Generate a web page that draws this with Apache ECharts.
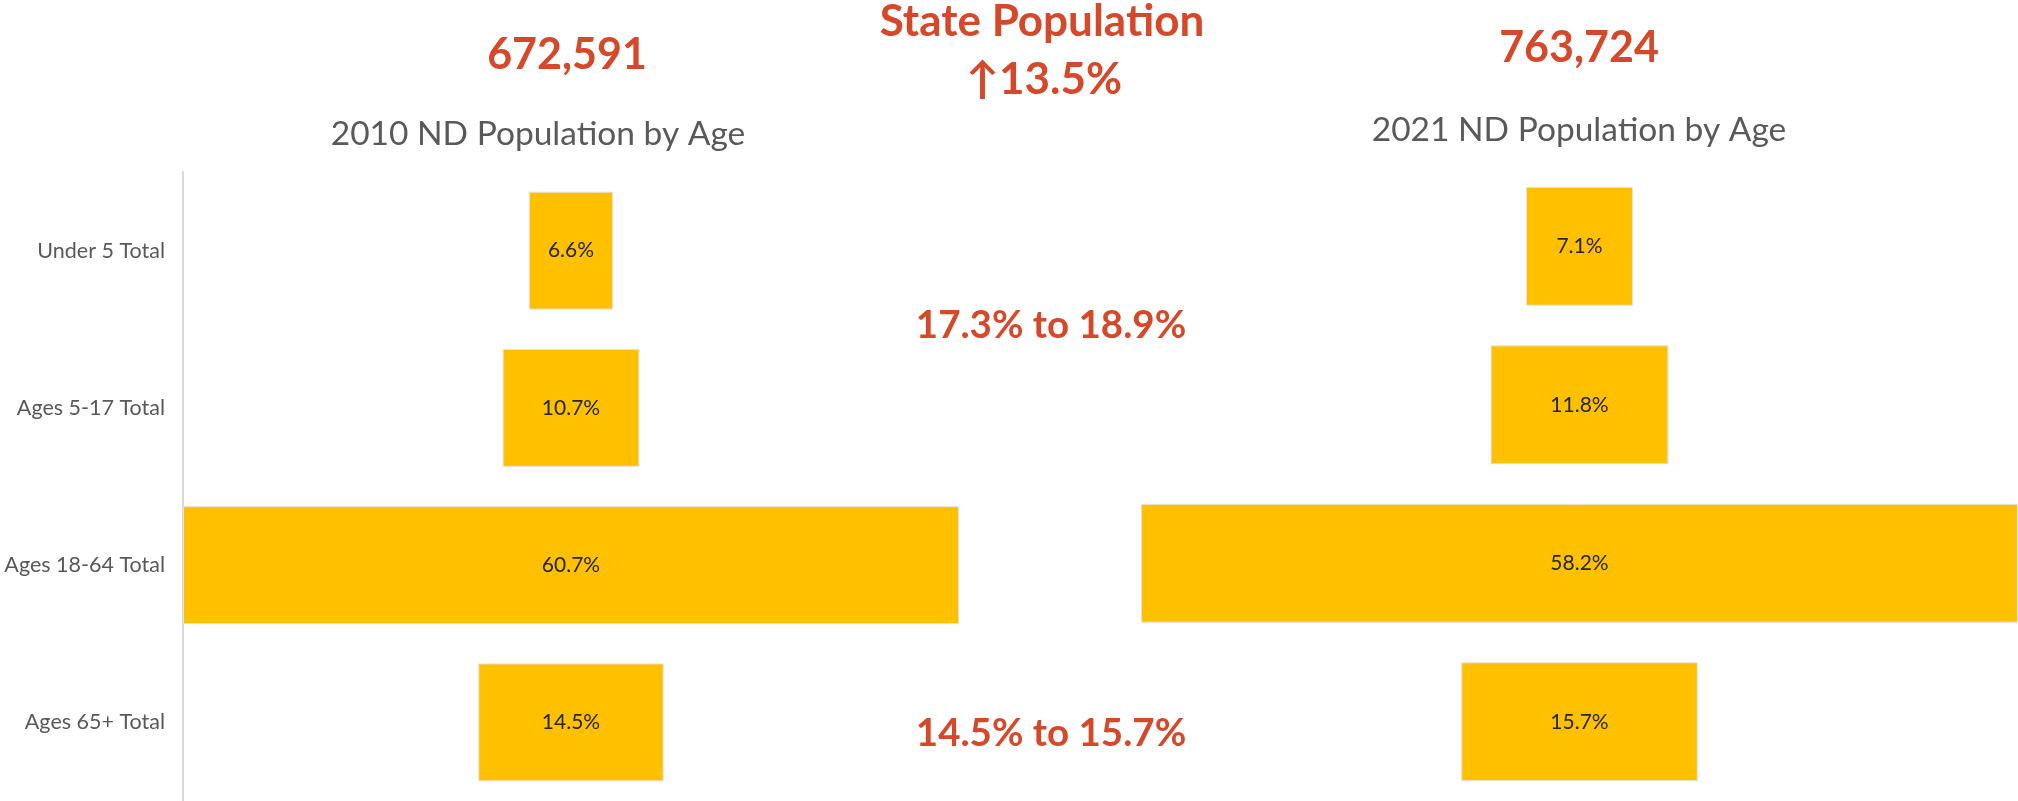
<!DOCTYPE html>
<html>
<head>
<meta charset="utf-8">
<title>ND Population by Age</title>
<script src="https://cdn.jsdelivr.net/npm/echarts@6/dist/echarts.min.js"></script>
<style>
  html, body { margin: 0; padding: 0; background: #fff; }
  #chart { width: 2018px; height: 801px; }
</style>
</head>
<body>
<div id="chart"></div>
<script>
// age groups, top to bottom
const ageGroups = ["Under 5 Total", "Ages 5-17 Total", "Ages 18-64 Total", "Ages 65+ Total"];
// share of population, percent
const share2010 = [6.6, 10.7, 60.7, 14.5];
const share2021 = [7.1, 11.8, 58.2, 15.7];
const total2010 = "672,591";
const total2021 = "763,724";
const stateChange = "\u2191" + "13.5%";
const under18Change = "17.3% to 18.9%";
const over65Change = "14.5% to 15.7%";

const RED = "#D5492A";
const GOLD = "#FFC000";
const FONT = "Lato";

// transparent padding so every bar sits centred (funnel look)
function padding(values) {
  const max = Math.max(...values);
  return values.map(v => +((max - v) / 2).toFixed(3));
}

function barSeries(idx, values) {
  return [
    {
      type: "bar",
      xAxisIndex: idx,
      yAxisIndex: idx,
      stack: "s" + idx,
      silent: true,
      barCategoryGap: "25%",
      itemStyle: { color: "rgba(0,0,0,0)", borderWidth: 0 },
      data: padding(values)
    },
    {
      type: "bar",
      xAxisIndex: idx,
      yAxisIndex: idx,
      stack: "s" + idx,
      barCategoryGap: "25%",
      itemStyle: { color: GOLD, borderColor: "#E3E3E3", borderWidth: 1 },
      label: {
        show: true,
        position: "inside",
        formatter: p => p.value.toFixed(1) + "%",
        color: "#262626",
        fontFamily: FONT,
        fontSize: 21
      },
      data: values
    }
  ];
}

function txt(text, x, y, size, color, weight) {
  return {
    type: "text",
    x: x,
    y: y,
    style: {
      text: text,
      fill: color,
      font: (weight || "normal") + " " + size + "px " + FONT,
      textAlign: "center",
      textVerticalAlign: "middle"
    }
  };
}

var myChart = echarts.init(document.getElementById("chart"));
let option = {
  animation: false,
  grid: [
    { left: 183, top: 172, width: 776, height: 631 },
    { left: 1141, top: 167, width: 877, height: 638 }
  ],
  xAxis: [
    { gridIndex: 0, type: "value", min: 0, max: Math.max(...share2010), show: false },
    { gridIndex: 1, type: "value", min: 0, max: Math.max(...share2021), show: false }
  ],
  yAxis: [
    {
      gridIndex: 0,
      type: "category",
      inverse: true,
      data: ageGroups,
      axisLine: { show: true, lineStyle: { color: "#D9D9D9", width: 2 } },
      axisTick: { show: false },
      axisLabel: { margin: 18, color: "#595959", fontFamily: FONT, fontSize: 21.5 }
    },
    {
      gridIndex: 1,
      type: "category",
      inverse: true,
      data: ageGroups,
      show: false
    }
  ],
  series: barSeries(0, share2010).concat(barSeries(1, share2021)),
  graphic: [
    txt("State Population", 1042, 22, 44, RED, "bold"),
    txt(stateChange, 1044, 80, 44, RED, "bold"),
    txt(total2010, 567, 55, 43, RED, "bold"),
    txt(total2021, 1579, 48, 43, RED, "bold"),
    txt("2010 ND Population by Age", 538, 134, 33.5, "#595959"),
    txt("2021 ND Population by Age", 1579, 130, 33.5, "#595959"),
    txt(under18Change, 1051, 326, 38.5, RED, "bold"),
    txt(over65Change, 1051, 734, 38.5, RED, "bold")
  ]
};
myChart.setOption(option);
</script>
</body>
</html>
